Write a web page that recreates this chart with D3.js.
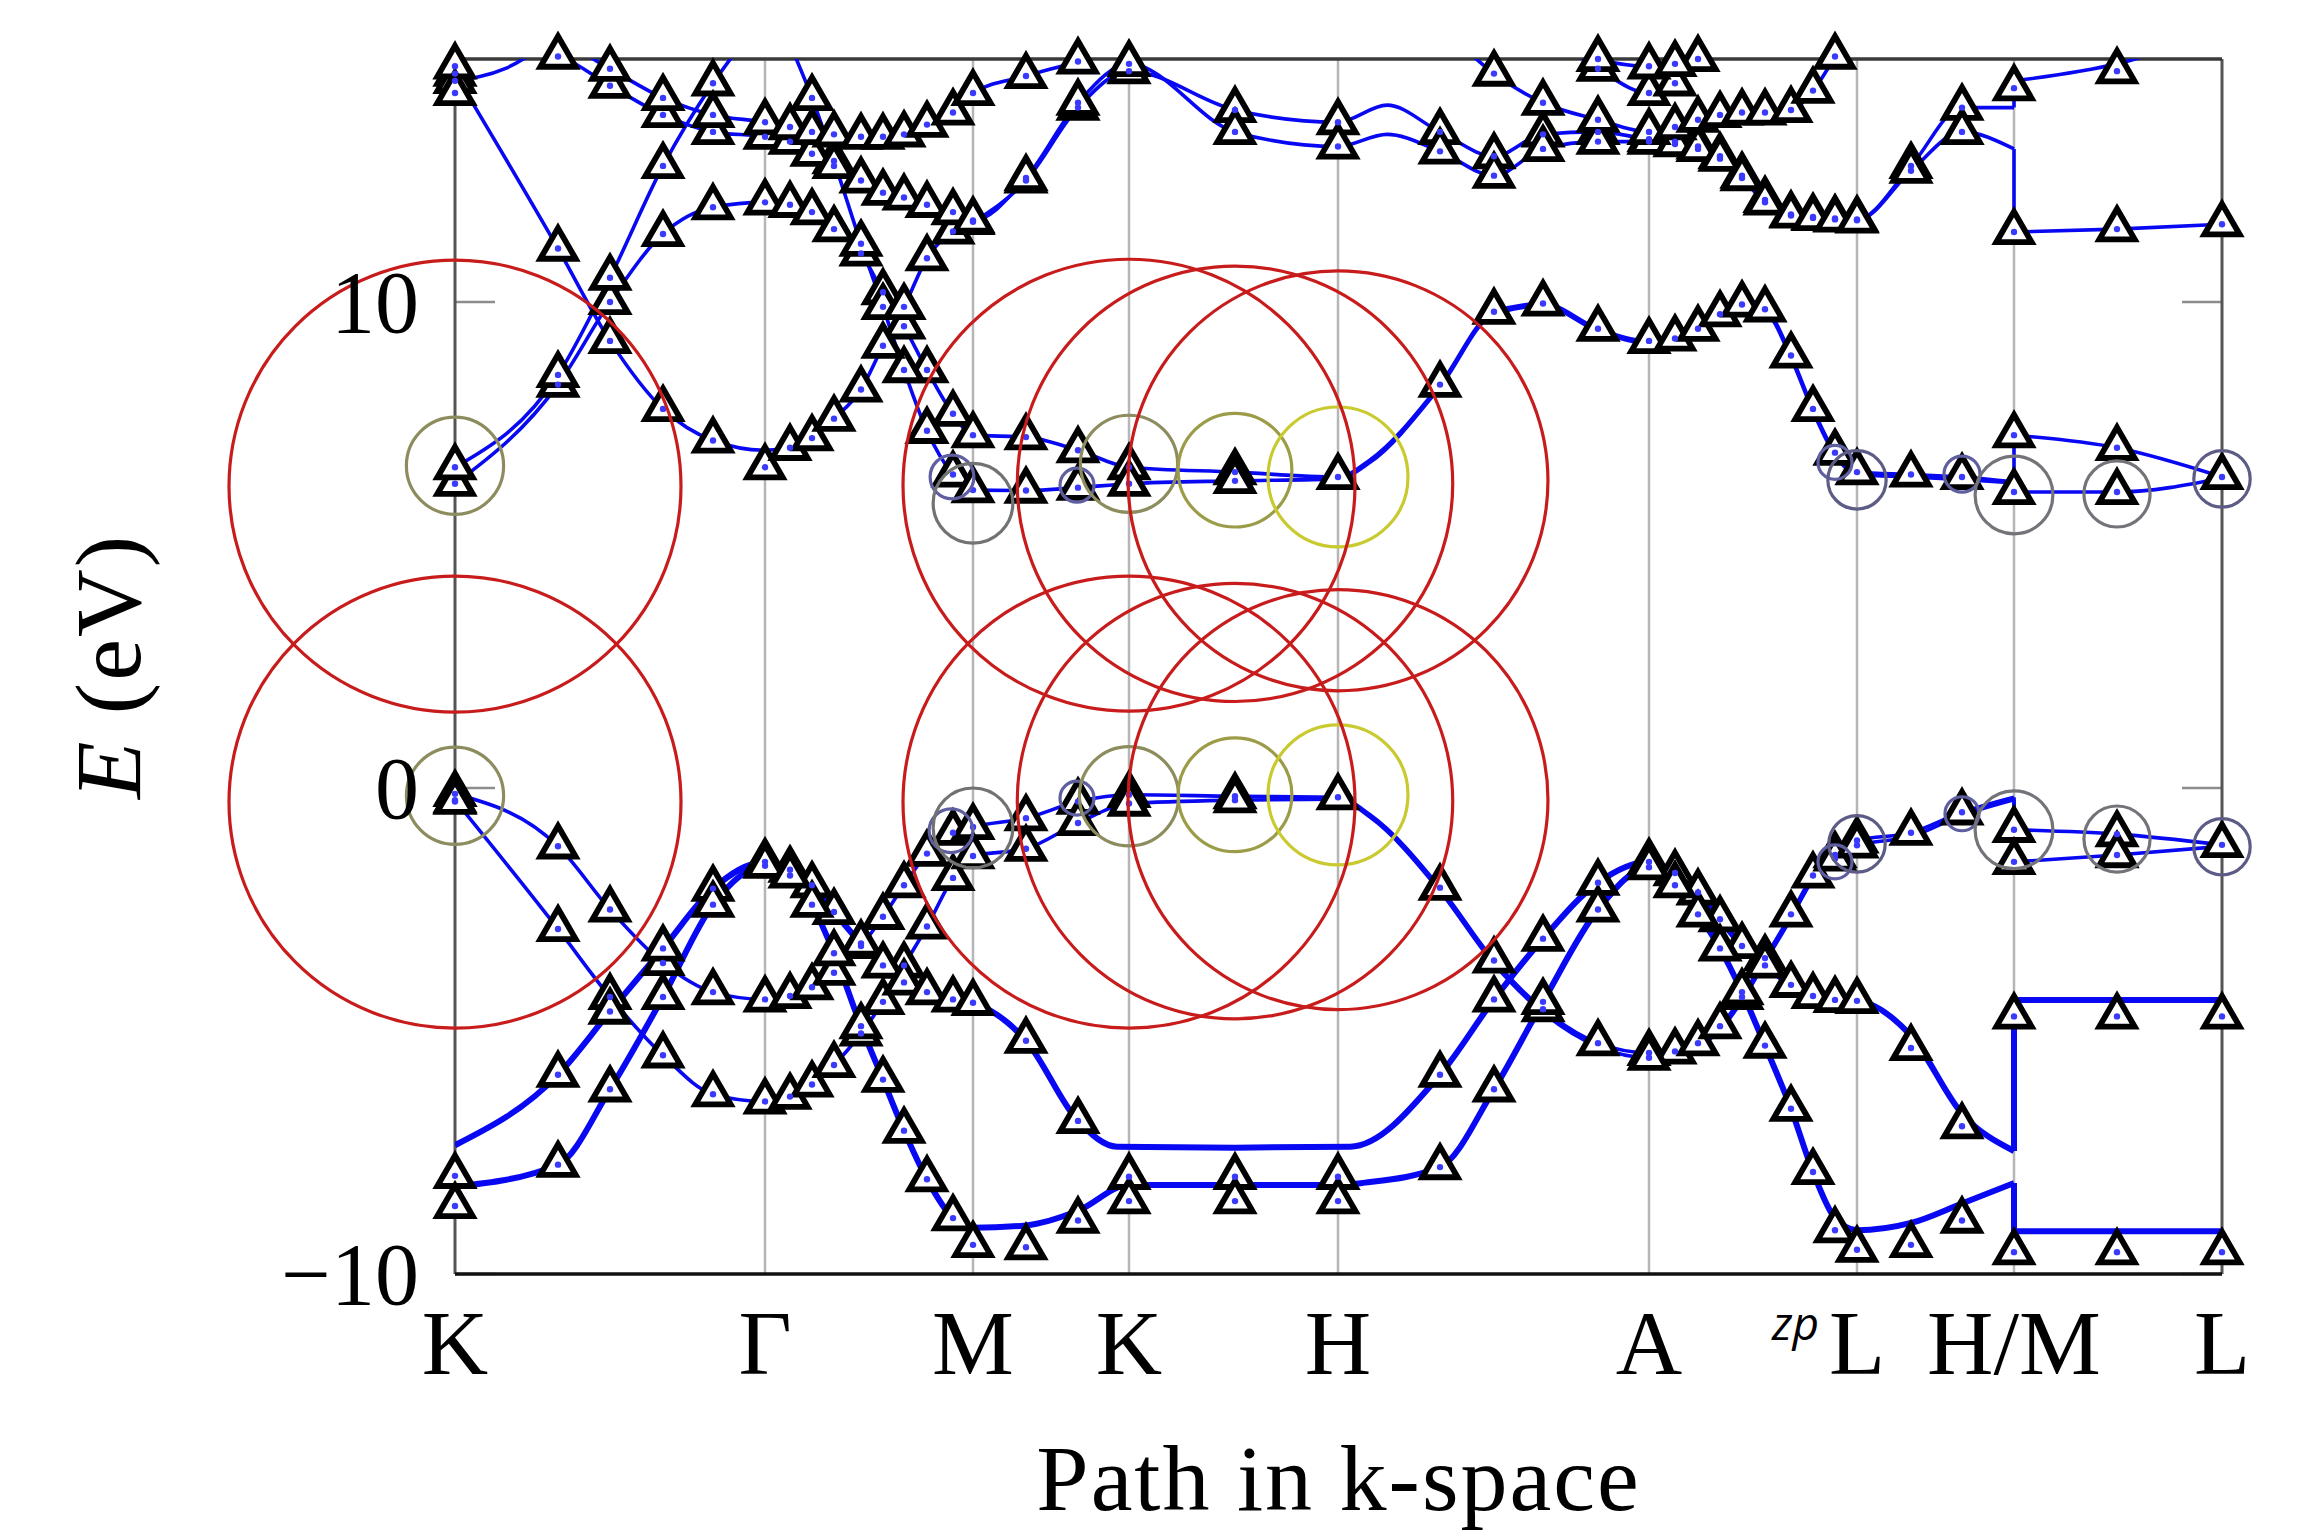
<!DOCTYPE html>
<html>
<head>
<meta charset="utf-8">
<script src="https://cdn.jsdelivr.net/npm/d3@7"></script>
<style>
  body { margin: 0; background: #fff; }
  svg { display: block; }
</style>
</head>
<body>
<div id="chart"></div>
<script>
////////// data

// high symmetry points along the path
const kPoints = [0, 3.10, 5.18, 6.74, 8.83, 11.94, 14.02, 15.59, 17.67];
const kLabels = ['K', 'Γ', 'M', 'K', 'H', 'A', 'L', 'H/M', 'L'];
const yTicks = [-10, 0, 10];

// bands: [k, E, triangle E]  (no 3rd value = triangle on the line, null = no triangle)
const vb1 = [
  [0,-0.12],[1.03,-1.2],[1.55,-2.5],[2.08,-3.6],[2.58,-4.2],[3.10,-4.35],
  [3.35,-4.28],[3.57,-4.1],[3.79,-3.8],[4.06,-3.25],[4.28,-2.65],[4.49,-2.0],[4.72,-1.35],[4.98,-0.92],[5.18,-0.8],
  [5.71,-0.62],[6.23,-0.28],[6.74,-0.14],[7.80,-0.17],[8.83,-0.19],[9.15,-0.55,null],
  [9.85,-2.05],[10.39,-3.55],[10.88,-4.55],[11.43,-5.25],[11.94,-5.45],
  [12.20,-5.42],[12.43,-5.25],[12.65,-4.9],[12.87,-4.3],[13.10,-3.5],[13.36,-2.6],[13.58,-1.8],[13.80,-1.38],[14.02,-1.08],
  [14.56,-0.92],[15.07,-0.5],[15.59,-0.19,null],
  [15.59,-0.86],[16.62,-0.95],[17.67,-1.17]
];
const vb2 = [
  [0,-0.25],[1.03,-2.9],[1.55,-4.3],[2.08,-5.5],[2.58,-6.3],[3.10,-6.45],
  [3.35,-6.35],[3.57,-6.1],[3.79,-5.7],[4.06,-5.05],[4.28,-4.4],[4.49,-3.65],[4.72,-2.85],[4.98,-1.85],[5.18,-1.4],
  [5.71,-1.25],[6.23,-0.72],[6.74,-0.32],[7.80,-0.25],[8.83,-0.23,null],[9.15,-0.6,null],
  [9.85,-2.12,null],[10.39,-3.62,null],[10.88,-4.62,null],[11.43,-5.32,null],[11.94,-5.55],
  [12.20,-5.5,null],[12.43,-5.33,null],[12.65,-4.98,null],[12.87,-4.38,null],[13.10,-3.58,null],[13.36,-2.68,null],[13.58,-1.88,null],[13.80,-1.45],[14.02,-1.18],
  [14.56,-1.0,null],[15.07,-0.56,null],[15.59,-0.24,null],
  [15.59,-1.52],[16.62,-1.38],[17.67,-1.2,null]
];
const vb3 = [
  [0,-7.35,null],[1.03,-5.9],[1.55,-4.6],[2.08,-3.3],[2.58,-2.07],[3.10,-1.52],
  [3.35,-1.68],[3.57,-2.0],[3.79,-2.55],[4.06,-3.2],[4.28,-3.65],[4.49,-4.0],[4.72,-4.2],[4.98,-4.35],[5.18,-4.42],
  [5.71,-5.2],[6.23,-6.85],[6.62,-7.38,null],[7.80,-7.4,null],[8.95,-7.38,null],
  [9.85,-5.9],[10.39,-4.35],[10.88,-3.1],[11.43,-1.95],[11.94,-1.52],
  [12.20,-1.75],[12.43,-2.15],[12.65,-2.7],[12.87,-3.25],[13.10,-3.65],[13.36,-4.05],[13.58,-4.28],[13.80,-4.36],[14.02,-4.38],
  [14.56,-5.1,-5.35],[15.07,-6.7,-6.96],[15.59,-7.47,null],
  [15.59,-4.36,-4.7],[16.62,-4.36,-4.7],[17.67,-4.36,-4.7]
];
const vb4 = [
  [0,-8.2,-7.98],[1.03,-7.75],[1.55,-6.2],[2.08,-4.3],[2.58,-2.4],[3.10,-1.6],
  [3.35,-1.8],[3.57,-2.4],[3.79,-3.4],[4.06,-4.9],[4.28,-6.0],[4.49,-7.05],[4.72,-8.05],[4.98,-8.85],[5.18,-9.05,-9.4],
  [5.71,-9.0,-9.45],[6.23,-8.7,-8.9],[6.74,-8.17,-8.0],[7.80,-8.17,-8.0],[8.83,-8.17,-8.0],[9.1,-8.12,null],
  [9.85,-7.8],[10.39,-6.2],[10.88,-4.4],[11.43,-2.5],[11.94,-1.63],
  [12.20,-2.0],[12.43,-2.6],[12.65,-3.3],[12.87,-4.2],[13.10,-5.3],[13.36,-6.6],[13.58,-7.9],[13.80,-8.85,-9.1],[14.02,-9.1,-9.5],
  [14.56,-8.95,-9.4],[15.07,-8.55,-8.9],[15.59,-8.13,null],
  [15.59,-9.12,-9.55],[16.62,-9.12,-9.55],[17.67,-9.12,-9.55]
];
const cb1 = [
  [0,6.26],[1.03,8.3],[1.55,10.0],[2.08,11.4],[2.58,11.95],[3.10,12.05],
  [3.35,12.0],[3.57,11.85],[3.79,11.5],[4.06,11.0],[4.28,10.2],[4.49,9.5],[4.72,8.6],[4.98,7.7],[5.18,7.26],
  [5.71,7.22],[6.23,6.95],[6.74,6.6],[7.80,6.5],[8.83,6.4],[9.15,6.75,null],
  [9.85,8.3],[10.39,9.8],[10.88,9.97],[11.43,9.45],[11.94,9.2],
  [12.20,9.25],[12.43,9.45],[12.65,9.75],[12.87,9.95],[13.10,9.85],[13.36,8.9],[13.58,7.8],[13.80,6.9],[14.02,6.5],
  [14.56,6.45],[15.07,6.4],[15.59,6.3,null],
  [15.59,7.26],[16.62,7.0],[17.67,6.4]
];
const cb2 = [
  [0,6.6],[1.03,8.5],[1.55,10.5],[2.08,12.8],[2.58,14.5],[2.9,15.4,null]
];
const cb3 = [
  [0,14.7],[1.03,11.1],[1.55,9.2],[2.08,7.8],[2.58,7.15],[3.10,6.95,6.6],
  [3.35,7.0],[3.57,7.2],[3.79,7.6],[4.06,8.2],[4.28,9.1],[4.49,9.9],[4.72,10.9],[4.98,11.45],[5.18,11.65],
  [5.71,12.5],[6.23,14.0],[6.74,14.75],[7.80,13.95],[8.83,13.7],[9.32,14.05,null],
  [9.85,13.5],[10.39,13.0],[10.88,13.45],[11.43,13.5],[11.94,13.35],
  [12.20,13.3],[12.43,13.2],[12.65,13.0],[12.87,12.6],[13.10,12.1],[13.36,11.8],[13.58,11.75],[13.80,11.72],[14.02,11.7],
  [14.56,12.8],[15.07,14.0],[15.59,14.0,null],
  [15.59,14.55,14.4],[16.62,14.9,14.75],[17.67,15.6,null]
];
const cb4 = [
  [3.10,16.4,null],[3.35,15.3,null],[3.57,14.2],[3.79,12.9],[4.06,11.2],[4.28,9.9],[4.49,8.6],[4.72,7.35],[4.98,6.45],[5.18,6.13],
  [5.71,6.12],[6.23,6.18],[6.74,6.26],[7.80,6.32],[8.83,6.36,null],[9.15,6.7,null],
  [9.85,8.25,null],[10.39,9.75,null],[10.88,9.92,null],[11.43,9.4,null],[11.94,9.15,null],
  [12.20,9.2,null],[12.43,9.4,null],[12.65,9.7,null],[12.87,9.9,null],[13.10,9.8,null],[13.36,8.85,null],[13.58,7.75,null],[13.80,6.85,null],[14.02,6.45,null],
  [14.56,6.4,null],[15.07,6.35,null],[15.59,6.28,null],
  [15.59,6.09],[16.62,6.09],[17.67,6.38,null]
];
const t1 = [
  [0,15.3,null],[1.03,15.05],[1.55,14.45],[2.08,13.85],[2.58,13.5],[3.10,13.4],
  [3.35,13.3],[3.57,13.05],[3.79,12.8],[4.06,12.5],[4.28,12.25],[4.49,12.15],[4.72,12.0],[4.98,11.85],[5.18,11.68],
  [5.71,12.55],[6.23,14.1],[6.74,14.9],[7.80,13.5],[8.83,13.2],[9.32,13.45,null],
  [9.85,13.1],[10.39,12.6],[10.88,13.15],[11.43,13.3],[11.94,13.3],
  [12.20,13.25],[12.43,13.15],[12.65,12.95],[12.87,12.55],[13.10,12.05],[13.36,11.78],[13.58,11.73],[13.80,11.7],[14.02,11.68],
  [14.56,12.7],[15.07,13.5],[15.59,13.15,null],
  [15.59,11.44],[16.62,11.5],[17.67,11.6]
];
const t2 = [
  [0,15.9,null],[1.03,15.4,null],[1.55,14.8],[2.08,14.2],[2.58,13.85],[3.10,13.7],
  [3.35,13.6],[3.57,13.5],[3.79,13.45],[4.06,13.4],[4.28,13.4],[4.49,13.45],[4.72,13.65],[4.98,13.9],[5.18,14.3],
  [5.71,14.65],[6.23,14.95],[6.74,15.3,null]
];
const t3 = [[0,14.55],[0.5,14.8,null],[1.03,15.5,null]];
const t4 = [
  [9.9,15.6,null],[10.39,14.7],[10.88,14.1],[11.43,13.75],[11.94,13.5],
  [12.20,13.6],[12.43,13.75],[12.65,13.85],[12.87,13.9],[13.10,13.9],[13.36,13.95],[13.58,14.35],[13.80,15.05],[14.0,15.8,null]
];
const t5 = [[10.9,15.6,null],[11.43,14.8],[11.94,14.3],[12.20,14.5],[12.43,15.0],[12.6,15.6,null]];
const t6 = [[11.0,15.5,null],[11.43,15.0],[11.94,14.85],[12.20,14.9],[12.43,15.2,null]];

// band list with degeneracy
const bands = [
  {pts: vb1, deg: 1}, {pts: vb2, deg: 1}, {pts: vb3, deg: 2}, {pts: vb4, deg: 2},
  {pts: cb1, deg: 1}, {pts: cb4, deg: 1}, {pts: cb2, deg: 1}, {pts: cb3, deg: 1},
  {pts: t1, deg: 1}, {pts: t2, deg: 1}, {pts: t3, deg: 1}, {pts: t4, deg: 1}, {pts: t5, deg: 1}, {pts: t6, deg: 1}
];

// triangles off the lines
const extraTri = [[0,-8.6],[6.74,-8.5],[7.80,-8.5],[8.83,-8.5],[0,-0.28],[0,14.85],[0,14.3]];

// circles: [k, E, radius in eV]
const redCircles = [
  [0,6.21,4.65],[0,-0.29,4.65],
  [6.74,6.23,4.65],[7.80,6.26,4.48],[8.83,6.32,4.32],
  [6.74,-0.29,4.65],[7.80,-0.27,4.48],[8.83,-0.24,4.32]
];
// [k, E, radius in eV, group]
const smallCircles = [
  [0,6.63,1.0,'K'],[4.97,6.4,0.45,'s'],[5.18,5.86,0.82,'M'],[6.22,6.23,0.35,'s'],[6.74,6.67,1.0,'K'],
  [7.80,6.54,1.17,'mid'],[8.83,6.4,1.44,'H'],[13.80,6.7,0.35,'s'],[14.02,6.34,0.6,'L'],[15.07,6.46,0.37,'s'],
  [15.59,6.03,0.8,'HM'],[16.62,6.05,0.68,'HM'],[17.67,6.36,0.58,'L'],
  [0,-0.16,1.0,'K'],[4.96,-0.88,0.45,'s'],[5.18,-0.82,0.82,'M'],[6.22,-0.21,0.35,'s'],[6.74,-0.17,1.02,'K'],
  [7.80,-0.14,1.17,'mid'],[8.83,-0.14,1.44,'H'],[13.80,-1.52,0.35,'s'],[14.02,-1.15,0.58,'L'],[15.07,-0.53,0.35,'s'],
  [15.59,-0.86,0.8,'HM'],[16.62,-1.05,0.68,'HM'],[17.67,-1.21,0.58,'L']
];
const circleGroups = ['K', 'M', 'mid', 'H', 'L', 'HM', 's'];

////////// chart

const W = 2315, H = 1530;

let x = d3.scaleLinear()
    .domain([0, 17.67])
    .range([455, 2222]);

let y = d3.scaleLinear()
    .domain([-10, 15])
    .range([1274, 59]);

const pxPerEV = y(0) - y(1);

let circleColor = d3.scaleOrdinal()
    .domain(circleGroups)
    .range(['#8c8c5e', '#727272', '#9c9c48', '#c9c930', '#5c5c86', '#737379', '#5e5ea0']);

let svg = d3
  .select('#chart')
  .append('svg')
  .attr('width', W)
  .attr('height', H)
  ;

svg.append('rect').attr('width', W).attr('height', H).attr('fill', '#fff');

svg
  .append('defs')
  .append('clipPath')
  .attr('id', 'plotclip')
  .append('rect')
  .attr('x', x(0))
  .attr('y', y(15))
  .attr('width', x(17.67) - x(0))
  .attr('height', y(-10) - y(15))
  ;

// vertical grid lines at the inner k points
svg.append('g')
  .selectAll('line')
  .data(kPoints.slice(1, -1))
  .join('line')
  .attr('x1', d => x(d))
  .attr('x2', d => x(d))
  .attr('y1', y(-10))
  .attr('y2', y(15))
  .attr('stroke', '#b6b6b6')
  .attr('stroke-width', 2.5)
  ;

// y ticks inside, both sides
let tickG = svg.append('g').attr('stroke', '#8c8c8c').attr('stroke-width', 2.5);
tickG.selectAll('line.l')
  .data(yTicks)
  .join('line')
  .attr('class', 'l')
  .attr('x1', x(0)).attr('x2', x(0) + 40)
  .attr('y1', d => y(d)).attr('y2', d => y(d))
  ;
tickG.selectAll('line.r')
  .data(yTicks)
  .join('line')
  .attr('class', 'r')
  .attr('x1', x(17.67) - 40).attr('x2', x(17.67))
  .attr('y1', d => y(d)).attr('y2', d => y(d))
  ;

// frame
svg.append('line').attr('x1', x(0)).attr('x2', x(0)).attr('y1', y(15)).attr('y2', y(-10)).attr('stroke', '#555').attr('stroke-width', 3);
svg.append('line').attr('x1', x(17.67)).attr('x2', x(17.67)).attr('y1', y(15)).attr('y2', y(-10)).attr('stroke', '#555').attr('stroke-width', 3);
svg.append('line').attr('x1', x(0)).attr('x2', x(17.67)).attr('y1', y(15)).attr('y2', y(15)).attr('stroke', '#3a3a3a').attr('stroke-width', 3.5);

// bands
let line = d3.line()
    .x(d => x(d[0]))
    .y(d => y(d[1]))
    .curve(d3.curveMonotoneX);

function bandPath(pts) {
  let segs = [[]];
  let jumps = '';
  pts.forEach((p, i) => {
    if (i > 0 && p[0] === pts[i - 1][0]) {
      segs.push([]);
      jumps += 'M' + x(p[0]) + ',' + y(pts[i - 1][1]) + 'L' + x(p[0]) + ',' + y(p[1]);
    }
    segs[segs.length - 1].push(p);
  });
  return segs.filter(s => s.length > 1).map(s => line(s)).join('') + jumps;
}

svg.append('g')
  .attr('clip-path', 'url(#plotclip)')
  .selectAll('path')
  .data(bands)
  .join('path')
  .attr('d', d => bandPath(d.pts))
  .attr('fill', 'none')
  .attr('stroke', '#0808f2')
  .attr('stroke-width', d => d.deg === 2 ? 6 : 3.6)
  .attr('stroke-linejoin', 'round')
  ;

svg.append('line').attr('x1', x(0)).attr('x2', x(17.67)).attr('y1', y(-10)).attr('y2', y(-10)).attr('stroke', '#111').attr('stroke-width', 3.5);

// triangles
let triangles = [];
bands.forEach(b => {
  b.pts.forEach(p => {
    if (p.length < 3) triangles.push([p[0], p[1]]);
    else if (p[2] !== null) triangles.push([p[0], p[2]]);
  });
});
extraTri.forEach(p => triangles.push(p));
triangles = triangles.filter(p => p[1] <= 15.2 && p[1] >= -10.2);

let tri = d3.symbol().type(d3.symbolTriangle).size(540);

let triG = svg.append('g');
triG.selectAll('path')
  .data(triangles)
  .join('path')
  .attr('transform', d => 'translate(' + x(d[0]) + ',' + y(d[1]) + ')')
  .attr('d', tri)
  .attr('fill', '#fff')
  .attr('stroke', '#000')
  .attr('stroke-width', 5.8)
  .attr('stroke-linejoin', 'miter')
  ;
triG.selectAll('circle')
  .data(triangles)
  .join('circle')
  .attr('cx', d => x(d[0]))
  .attr('cy', d => y(d[1]))
  .attr('r', 3.2)
  .attr('fill', '#3a3aff')
  ;

// circles
svg.append('g')
  .selectAll('circle')
  .data(smallCircles)
  .join('circle')
  .attr('cx', d => x(d[0]))
  .attr('cy', d => y(d[1]))
  .attr('r', d => d[2] * pxPerEV)
  .attr('fill', 'none')
  .attr('stroke', d => circleColor(d[3]))
  .attr('stroke-width', 3.2)
  ;

svg.append('g')
  .selectAll('circle')
  .data(redCircles)
  .join('circle')
  .attr('cx', d => x(d[0]))
  .attr('cy', d => y(d[1]))
  .attr('r', d => d[2] * pxPerEV)
  .attr('fill', 'none')
  .attr('stroke', '#c81c1c')
  .attr('stroke-width', 3.2)
  ;

////////// text

const serif = '"Liberation Serif", "Times New Roman", serif';

svg.append('g')
  .selectAll('text')
  .data(yTicks)
  .join('text')
  .attr('x', 419)
  .attr('y', d => y(d) + 30)
  .attr('text-anchor', 'end')
  .attr('font-family', serif)
  .attr('font-size', 88)
  .text(d => d < 0 ? '−' + Math.abs(d) : d)
  ;

svg.append('g')
  .selectAll('text')
  .data(kPoints)
  .join('text')
  .attr('x', d => x(d))
  .attr('y', 1374)
  .attr('text-anchor', 'middle')
  .attr('font-family', serif)
  .attr('font-size', 92)
  .text((d, i) => kLabels[i])
  ;

// stray label next to L
svg.append('text')
  .attr('x', x(14.02) - 38)
  .attr('y', 1340)
  .attr('text-anchor', 'end')
  .attr('font-family', '"Open Sans", sans-serif')
  .attr('font-style', 'italic')
  .attr('font-size', 46)
  .text('zp')
  ;

svg.append('text')
  .attr('x', (x(0) + x(17.67)) / 2)
  .attr('y', 1510)
  .attr('text-anchor', 'middle')
  .attr('font-family', serif)
  .attr('font-size', 94)
  .attr('letter-spacing', 2)
  .text('Path in k-space')
  ;

let yl = svg.append('text')
  .attr('transform', 'translate(140,' + ((y(15) + y(-10)) / 2) + ') rotate(-90)')
  .attr('text-anchor', 'middle')
  .attr('font-family', serif)
  .attr('font-size', 94)
  .attr('letter-spacing', 2)
  ;
yl.append('tspan').attr('font-style', 'italic').text('E');
yl.append('tspan').text(' (eV)');
</script>
</body>
</html>
